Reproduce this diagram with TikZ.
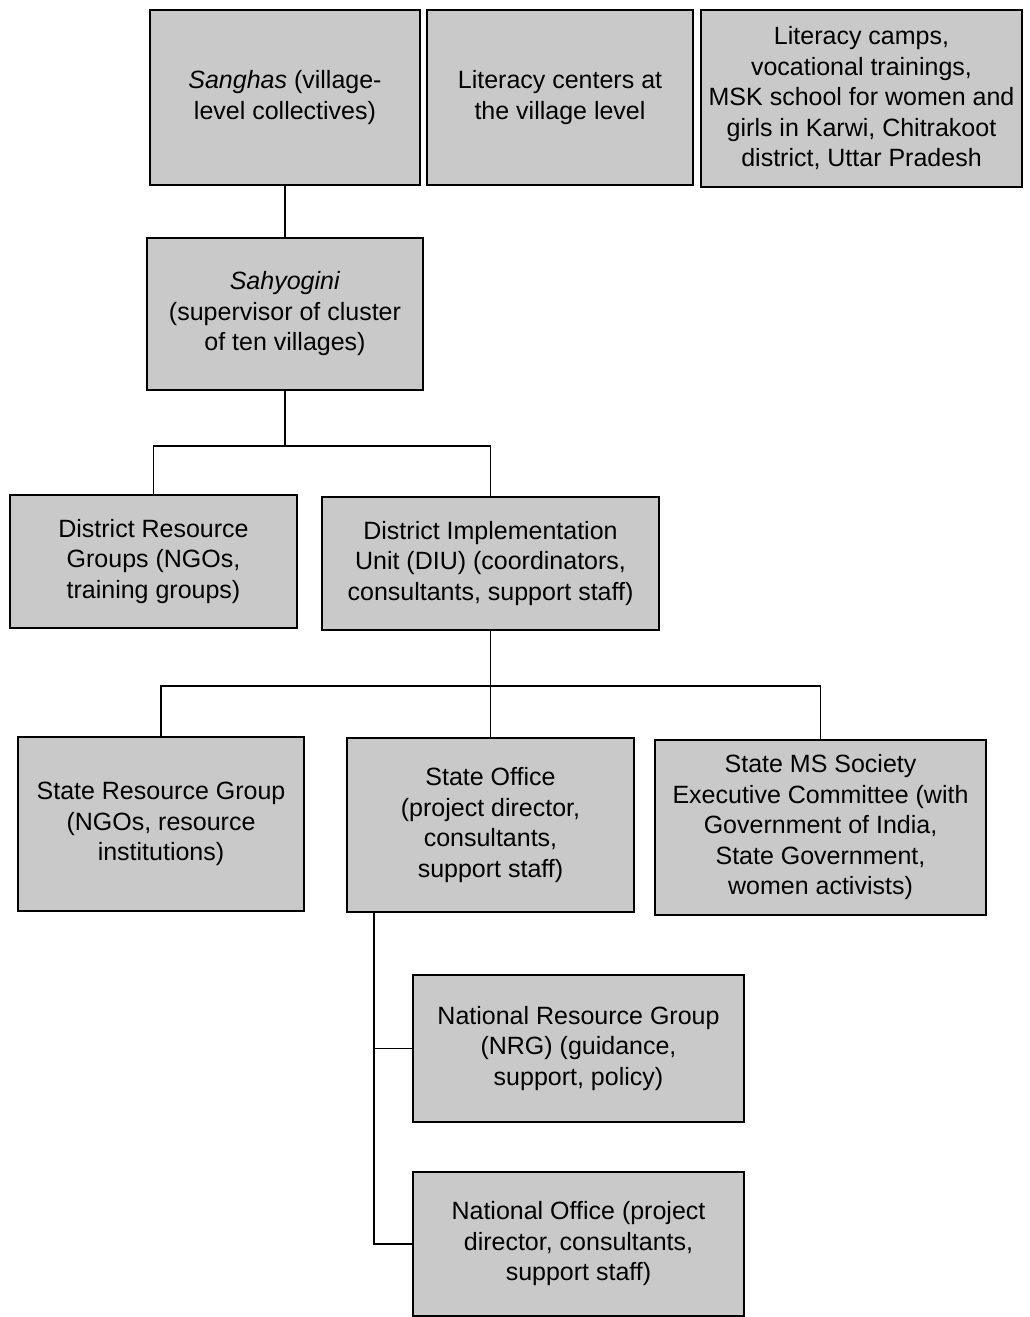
\documentclass[tikz,border=0pt]{standalone}
\usepackage{fontspec}
\setmainfont{Liberation Sans}
\usepackage{xcolor}
\usepackage{tikz}
\usetikzlibrary{
  positioning,
  calc
}
\definecolor{boxgray}{HTML}{C9C9C9}
\newcommand{\orgfont}{\fontsize{12.5}{15.25}\selectfont}

\begin{document}
\begin{tikzpicture}[x=0.5pt,y=-0.5pt,
  orgbox/.style 2 args={draw=black,line width=0.8pt,fill=boxgray,align=center,
    font=\orgfont,inner sep=0pt,minimum width=#1*0.5pt,minimum height=#2*0.5pt},
  link/.style={line width=0.8pt}]
  \useasboundingbox (0,0) rectangle (1029,1317);
  % village level
  \node[orgbox={270}{175}] (sangha) at (285,97.5) {\textit{Sanghas} (village-\\level collectives)};
  \node[orgbox={266}{175}] (centers) at (560,97.5) {Literacy centers at\\the village level};
  \node[orgbox={321}{177}] (camps) at (861.5,98.5) {Literacy camps,\\vocational trainings,\\MSK school for women and\\girls in Karwi, Chitrakoot\\district, Uttar Pradesh};
  % cluster level
  \node[orgbox={276}{152}] (sahyog) at (285,314) {\textit{Sahyogini}\\(supervisor of cluster\\of ten villages)};
  % district level
  \node[orgbox={287}{133}] (drg) at (153.5,561.5) {District Resource\\Groups (NGOs,\\training groups)};
  \node[orgbox={337}{133}] (diu) at (490.5,563.5) {District Implementation\\Unit (DIU) (coordinators,\\consultants, support staff)};
  % state level
  \node[orgbox={286}{174}] (srg) at (161,824) {State Resource Group\\(NGOs, resource\\institutions)};
  \node[orgbox={287}{174}] (soffice) at (490.5,825) {State Office\\(project director,\\consultants,\\support staff)};
  \node[orgbox={331}{175}] (society) at (820.5,827.5) {State MS Society\\Executive Committee (with\\Government of India,\\State Government,\\women activists)};
  % national level
  \node[orgbox={331}{147}] (nrg) at (578.5,1048.5) {National Resource Group\\(NRG) (guidance,\\support, policy)};
  \node[orgbox={331}{144}] (noffice) at (578.5,1244) {National Office (project\\director, consultants,\\support staff)};
  % connectors
  \draw[link] (sangha.south) -- (sahyog.north);
  \draw[link] (sahyog.south) -- ++(0,55) coordinate (j1);
  \draw[link] (drg.north) |- (j1) -| (diu.north);
  \draw[link] (diu.south) -- ++(0,55) coordinate (j2);
  \draw[link] (srg.north) |- (j2) -| (society.north);
  \draw[link] (j2) -- (soffice.north);
  \coordinate (j3) at ([xshift=14pt]soffice.south west);
  \draw[link] (j3) |- (nrg.west);
  \draw[link] (j3) |- (noffice.west);
\end{tikzpicture}
\end{document}
